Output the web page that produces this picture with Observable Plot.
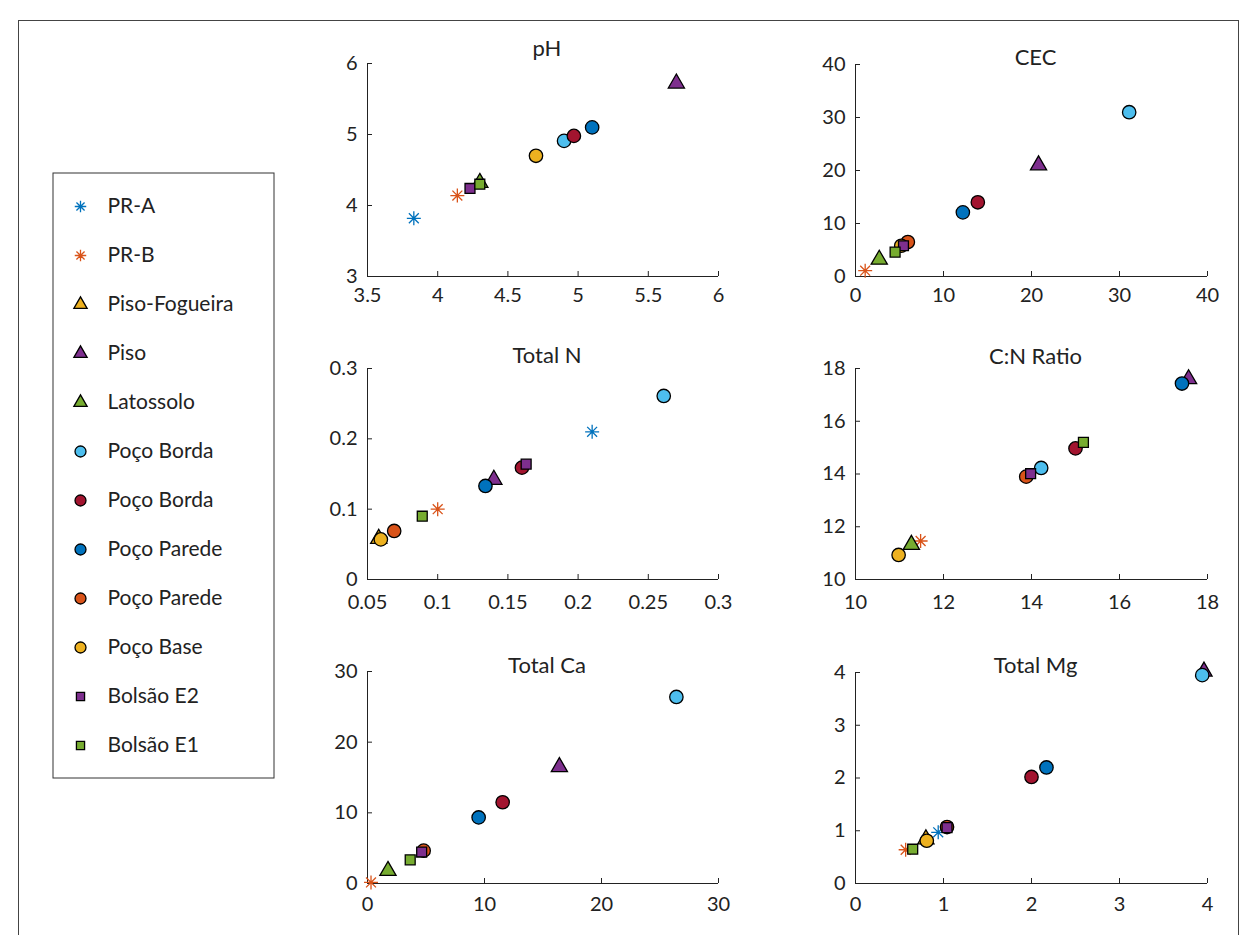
<!DOCTYPE html>
<html><head><meta charset="utf-8">
<script src="https://cdn.jsdelivr.net/npm/d3@7"></script>
<script src="https://cdn.jsdelivr.net/npm/@observablehq/plot@0.6"></script>
<style>
body{margin:0;background:#fff;font-family:Lato,"Open Sans",sans-serif;}
#root{position:relative;width:1249px;height:935px;overflow:hidden;background:#fff;}
.frame{position:absolute;left:18px;top:20px;width:1221px;height:960px;border:1px solid #444;box-sizing:border-box;}
#root svg{position:absolute;overflow:visible;}
</style></head><body><div id="root"><div class="frame"></div></div>
<script>
// ---- data ----
const seriesNames = ["PR-A","PR-B","Piso-Fogueira","Piso","Latossolo","Poço Borda","Poço Borda","Poço Parede","Poço Parede","Poço Base","Bolsão E2","Bolsão E1"];
const panelTitles = ["pH","CEC","Total N","C:N Ratio","Total Ca","Total Mg"];

const pH_x  = [3.83, 4.14, null, 5.70, 4.30, 4.90, 4.97, 5.10, null, 4.70, 4.23, 4.30];
const pH_y  = [3.82, 4.14, null, 5.72, 4.32, 4.91, 4.98, 5.10, null, 4.70, 4.24, 4.30];
const CEC_x = [null, 1.1, null, 20.8, 2.7, 31.1, 13.9, 12.2, 5.95, 5.2, 5.45, 4.5];
const CEC_y = [null, 1.1, null, 21.0, 3.2, 31.0, 14.0, 12.1, 6.5, 5.8, 5.8, 4.6];
const N_x   = [0.21, 0.10, 0.058, 0.140, null, 0.261, 0.160, 0.134, 0.069, 0.0595, 0.163, 0.089];
const N_y   = [0.21, 0.10, 0.058, 0.142, null, 0.261, 0.159, 0.133, 0.069, 0.057, 0.164, 0.090];
const CN_x  = [null, 11.48, null, 17.57, 11.27, 14.22, 15.0, 17.42, 13.88, 10.98, 13.98, 15.18];
const CN_y  = [null, 11.46, null, 17.60, 11.32, 14.23, 14.97, 17.43, 13.9, 10.93, 14.01, 15.2];
const Ca_x  = [null, 0.3, null, 16.4, 1.75, 26.4, 11.55, 9.5, 4.8, null, 4.63, 3.65];
const Ca_y  = [null, 0.15, null, 16.5, 1.8, 26.4, 11.5, 9.35, 4.65, null, 4.45, 3.35];
const Mg_x  = [0.94, 0.57, 0.80, 3.96, null, 3.94, 2.0, 2.17, 1.04, 0.81, 1.04, 0.65];
const Mg_y  = [0.97, 0.64, 0.84, 4.02, null, 3.95, 2.02, 2.2, 1.07, 0.81, 1.06, 0.65];

const xValues = [pH_x, CEC_x, N_x, CN_x, Ca_x, Mg_x];
const yValues = [pH_y, CEC_y, N_y, CN_y, Ca_y, Mg_y];

const xDomains = [[3.5,6],[0,40],[0.05,0.3],[10,18],[0,30],[0,4]];
const yDomains = [[3,6],[0,40],[0,0.3],[10,18],[0,30],[0,4]];
const xTickValues = [[3.5,4,4.5,5,5.5,6],[0,10,20,30,40],[0.05,0.1,0.15,0.2,0.25,0.3],[10,12,14,16,18],[0,10,20,30],[0,1,2,3,4]];
const yTickValues = [[3,4,5,6],[0,10,20,30,40],[0,0.1,0.2,0.3],[10,12,14,16,18],[0,10,20,30],[0,1,2,3,4]];

// ---- styles ----
const seriesColors = ["#0072BD","#D95319","#EDB120","#7E2F8E","#77AC30","#4DBEEE","#A2142F","#0072BD","#D95319","#EDB120","#7E2F8E","#77AC30"];
const seriesShapes = ["asterisk","asterisk","triangle","triangle","triangle","circle","circle","circle","circle","circle","square","square"];
const shapeR = {asterisk:7.0, triangle:6.0, circle:6.7, square:5.6};
const layout = [
  {left:367,right:718,top:63,bottom:276,titleY:48,pad:11},
  {left:855,right:1207,top:64,bottom:276,titleY:57,pad:11},
  {left:367,right:718,top:368,bottom:579,titleY:355,pad:15},
  {left:855,right:1207,top:368,bottom:579,titleY:356,pad:15},
  {left:367,right:718,top:671,bottom:883,titleY:665,pad:13},
  {left:855,right:1207,top:672,bottom:883,titleY:665,pad:13}
];
const ink = "#222";
const fontFamily = "Lato, 'Open Sans', sans-serif";

const star8 = {
  draw(context, size) {
    const r = Math.sqrt(size / Math.PI);
    for (let k = 0; k < 4; k++) {
      const a = k * Math.PI / 4;
      const c = Math.cos(a) * r, s = Math.sin(a) * r;
      context.moveTo(c, s); context.lineTo(-c, -s);
    }
  }
};

function dotMark(data, s, scale, extra) {
  const shape = seriesShapes[s];
  const r = shapeR[shape] * scale;
  if (shape === "asterisk") {
    return Plot.dot(data, {...extra, symbol: star8, r, fill: "none", stroke: seriesColors[s], strokeWidth: 1.3});
  }
  return Plot.dot(data, {...extra, symbol: shape, r, fill: seriesColors[s], stroke: "#000", strokeWidth: 1.3});
}

const root = document.getElementById("root");
const mL = 60, mR = 30, mT = 40, mB = 45;

panelTitles.forEach((title, i) => {
  const L = layout[i];
  const innerW = L.right - L.left, innerH = L.bottom - L.top;
  const xd = xDomains[i], yd = yDomains[i];
  const pts = seriesNames.map((name, s) => ({s, x: xValues[i][s], y: yValues[i][s]}));
  const marks = [
    Plot.ruleY([yd[0]], {y: d => d, stroke: ink, strokeWidth: 1}),
    Plot.ruleX([xd[0]], {x: d => d, stroke: ink, strokeWidth: 1}),
    Plot.tickX(xTickValues[i], {x: d => d, insetTop: innerH - 5, stroke: ink}),
    Plot.tickY(yTickValues[i], {y: d => d, insetRight: innerW - 5, stroke: ink}),
    Plot.axisX(xTickValues[i], {tickSize: 0, tickPadding: L.pad, fontSize: 20, fill: ink, tickFormat: d => String(d), label: null}),
    Plot.axisY(yTickValues[i], {tickSize: 0, tickPadding: 10, fontSize: 20, fill: ink, tickFormat: d => String(d), label: null}),
    Plot.text([title], {frameAnchor: "top", lineAnchor: "middle", dy: L.titleY - L.top, dx: 4, fontSize: 22, fill: ink})
  ];
  pts.forEach(p => {
    if (p.x != null && p.y != null) marks.push(dotMark([p], p.s, 1, {x: "x", y: "y"}));
  });
  const chart = Plot.plot({
    width: mL + innerW + mR,
    height: mT + innerH + mB,
    marginLeft: mL, marginRight: mR, marginTop: mT, marginBottom: mB,
    x: {domain: xd, label: null},
    y: {domain: yd, label: null},
    style: {fontFamily, fontSize: "20px", color: ink, background: "transparent"},
    marks
  });
  chart.style.left = (L.left - mL) + "px";
  chart.style.top = (L.top - mT) + "px";
  root.appendChild(chart);
});

// ---- legend ----
const legendIdx = seriesNames.map((n, s) => s);
const legendMarks = [Plot.frame({stroke: "#333", strokeWidth: 1, inset: 0.5})];
legendIdx.forEach(s => legendMarks.push(dotMark([s], s, 0.82, {y: d => d, frameAnchor: "left", dx: 28})));
legendMarks.push(Plot.text(legendIdx, {y: d => d, text: d => seriesNames[d], frameAnchor: "left", dx: 55, textAnchor: "start", fontSize: 21, fill: ink}));
const legend = Plot.plot({
  width: 222, height: 606, margin: 0,
  x: {domain: [0, 1], axis: null},
  y: {type: "point", domain: legendIdx, range: [32, 575], padding: 0, axis: null},
  style: {fontFamily, fontSize: "21px", color: ink, background: "transparent"},
  marks: legendMarks
});
legend.style.left = "52px";
legend.style.top = "172px";
root.appendChild(legend);
</script>
</body></html>
